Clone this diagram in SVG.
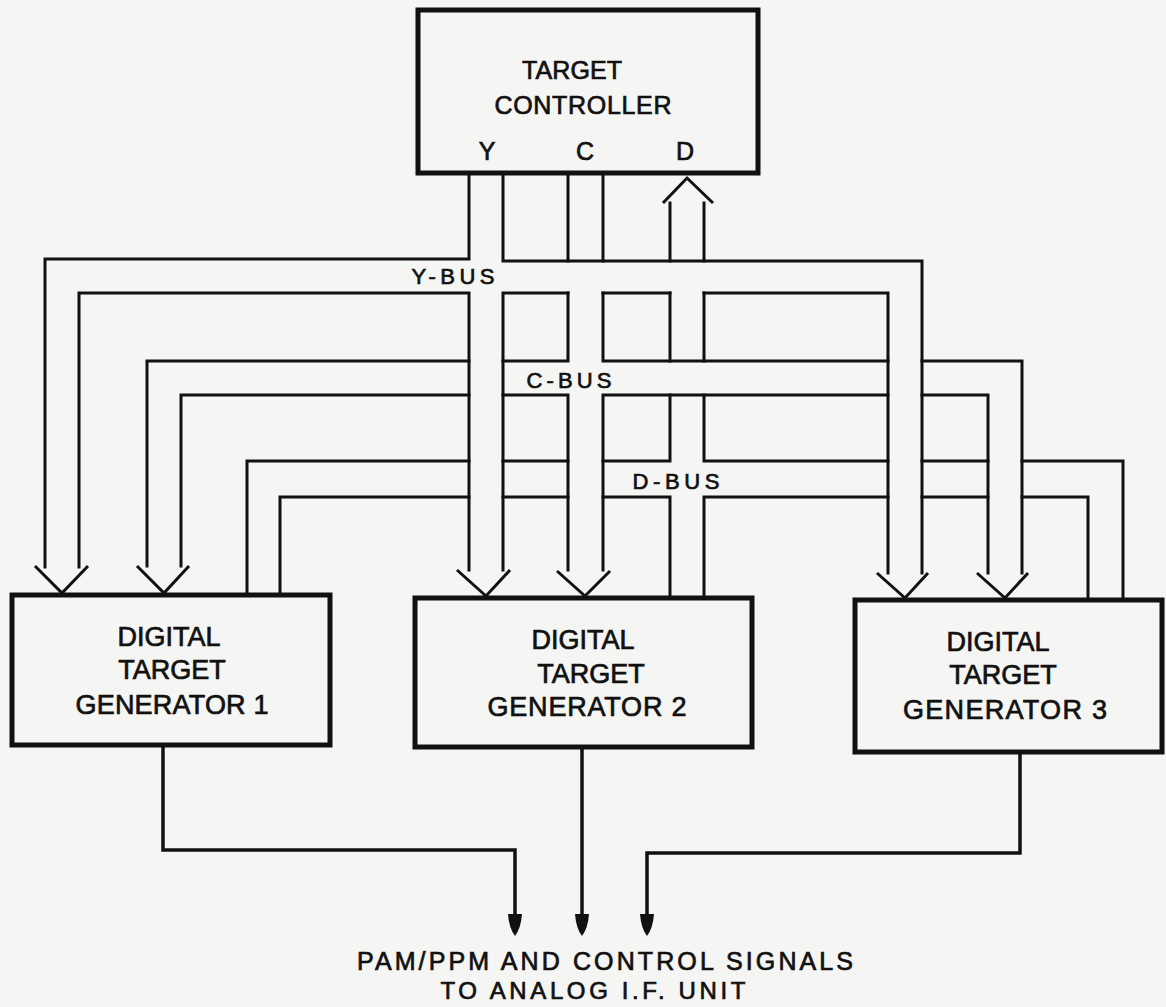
<svg xmlns="http://www.w3.org/2000/svg" width="1166" height="1007" viewBox="0 0 1166 1007">
<defs>
<style>
.bg{fill:#f5f5f3}
.box{fill:none;stroke:#111;stroke-width:5}
.bus{fill:none;stroke:#111;stroke-width:3;stroke-linejoin:miter;stroke-linecap:square}
.arr{fill:none;stroke:#111;stroke-width:3;stroke-linejoin:miter}
.out{fill:none;stroke:#111;stroke-width:3.5;stroke-linejoin:miter}
.head{fill:#111;stroke:none}
.t{font-family:"Liberation Sans",Arial,sans-serif;fill:#111;stroke:#111;stroke-width:0.7;text-anchor:middle}
.b{font-size:27px}
.c{font-size:25px}
.l{font-size:22px}
.o{font-size:25px}
.o2{font-size:24px}
</style>
<path id="dh" d="M-7,0 Q-6,14 0,22 Q6,14 7,0 Z"/>
</defs>
<rect class="bg" x="0" y="0" width="1166" height="1007"/>

<g id="connectors">
  <g id="y-bus">
    <path class="bus" d="M469,173 V259 H45 V567"/>
    <path class="bus" d="M79,567 V293 H469 V570"/>
    <path class="bus" d="M503,173 V261 H922 V573"/>
    <path class="bus" d="M503,570 V293 H568"/>
    <path class="bus" d="M603,293 H670"/>
    <path class="bus" d="M704,293 H888 V573"/>
  </g>
  <g id="c-bus">
    <path class="bus" d="M568,173 V261"/>
    <path class="bus" d="M603,173 V261"/>
    <path class="bus" d="M568,293 V361 H503"/>
    <path class="bus" d="M469,361 H147 V566"/>
    <path class="bus" d="M603,293 V361 H888"/>
    <path class="bus" d="M922,361 H1022 V573"/>
    <path class="bus" d="M181,566 V395 H469"/>
    <path class="bus" d="M503,395 H568 V570"/>
    <path class="bus" d="M603,570 V395 H888"/>
    <path class="bus" d="M922,395 H988 V573"/>
  </g>
  <g id="d-bus">
    <path class="bus" d="M670,203 V261"/>
    <path class="bus" d="M704,203 V261"/>
    <path class="bus" d="M670,293 V361"/>
    <path class="bus" d="M704,293 V361"/>
    <path class="bus" d="M670,395 V461 H603"/>
    <path class="bus" d="M568,461 H503"/>
    <path class="bus" d="M469,461 H247 V595"/>
    <path class="bus" d="M704,395 V461 H888"/>
    <path class="bus" d="M922,461 H988"/>
    <path class="bus" d="M1022,461 H1123 V600"/>
    <path class="bus" d="M280,595 V497 H469"/>
    <path class="bus" d="M503,497 H568"/>
    <path class="bus" d="M603,497 H670 V598"/>
    <path class="bus" d="M704,598 V497 H888"/>
    <path class="bus" d="M922,497 H988"/>
    <path class="bus" d="M1022,497 H1088 V600"/>
  </g>
  <g id="bus-arrows">
    <path class="arr" d="M35,566 L62,593 L88,566"/>
    <path class="arr" d="M137,566 L164,593 L189,566"/>
    <path class="arr" d="M457,570 L486,596 L510,570"/>
    <path class="arr" d="M557,571 L585,596 L610,571"/>
    <path class="arr" d="M877,573 L905,598 L928,573"/>
    <path class="arr" d="M977,573 L1005,598 L1028,573"/>
    <path class="arr" d="M663,203 L687,178 L713,203"/>
  </g>
  <g id="outputs">
    <path class="out" d="M163,747 V850 H515 V918"/>
    <path class="out" d="M582,749 V918"/>
    <path class="out" d="M1020,754 V853 H647 V918"/>
    <use href="#dh" class="head" x="515" y="914"/>
    <use href="#dh" class="head" x="582" y="914"/>
    <use href="#dh" class="head" x="647" y="914"/>
  </g>
  <g id="bus-labels">
    <text class="t l" x="453" y="284" textLength="83" lengthAdjust="spacing">Y-BUS</text>
    <text class="t l" x="569" y="388" textLength="85" lengthAdjust="spacing">C-BUS</text>
    <text class="t l" x="676" y="489" textLength="87" lengthAdjust="spacing">D-BUS</text>
  </g>
</g>

<g id="target-controller">
  <rect class="box" x="418" y="10" width="340" height="163"/>
  <text class="t c" x="572" y="79" textLength="100" lengthAdjust="spacing">TARGET</text>
  <text class="t c" x="583" y="114" textLength="177" lengthAdjust="spacing">CONTROLLER</text>
  <text class="t c" x="487" y="160">Y</text>
  <text class="t c" x="585" y="160">C</text>
  <text class="t c" x="685" y="160">D</text>
</g>

<g id="dtg1">
  <rect class="box" x="12" y="595" width="318" height="150"/>
  <text class="t b" x="169" y="646">DIGITAL</text>
  <text class="t b" x="172" y="679">TARGET</text>
  <text class="t b" x="172" y="714" textLength="193" lengthAdjust="spacing">GENERATOR 1</text>
</g>

<g id="dtg2">
  <rect class="box" x="415" y="598" width="337" height="149"/>
  <text class="t b" x="583" y="649">DIGITAL</text>
  <text class="t b" x="591" y="683">TARGET</text>
  <text class="t b" x="587" y="716" textLength="199" lengthAdjust="spacing">GENERATOR 2</text>
</g>

<g id="dtg3">
  <rect class="box" x="855" y="600" width="307" height="152"/>
  <text class="t b" x="998" y="651">DIGITAL</text>
  <text class="t b" x="1003" y="684">TARGET</text>
  <text class="t b" x="1005" y="719" textLength="204" lengthAdjust="spacing">GENERATOR 3</text>
</g>

<g id="output-label">
  <text class="t o" x="605" y="970" textLength="496" lengthAdjust="spacing">PAM/PPM AND CONTROL SIGNALS</text>
  <text class="t o2" x="593" y="999" textLength="305" lengthAdjust="spacing">TO ANALOG I.F. UNIT</text>
</g>
</svg>
